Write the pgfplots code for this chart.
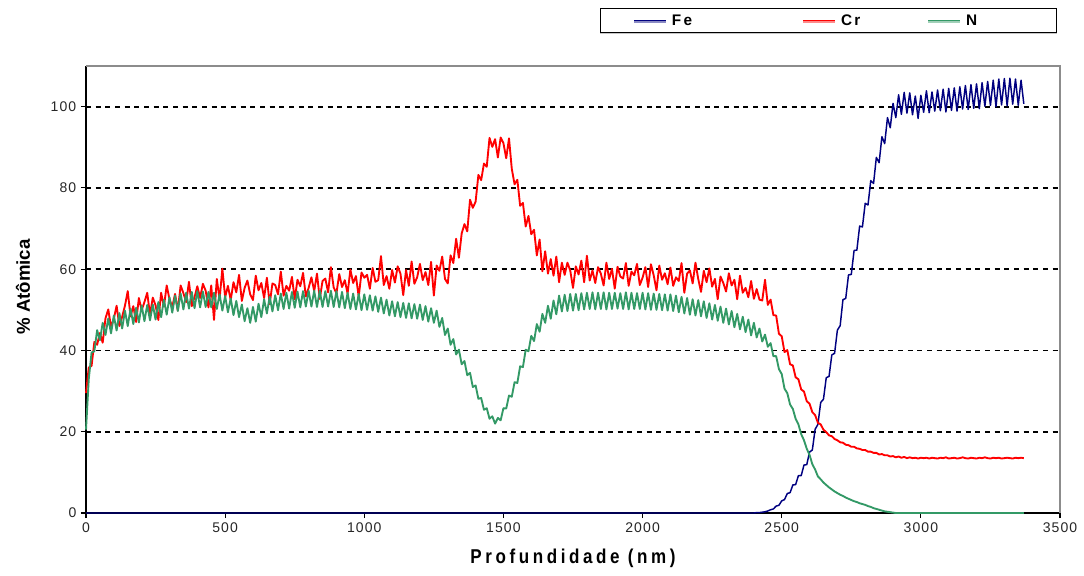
\documentclass[border=0pt]{standalone}
\usepackage{pgfplots}
\pgfplotsset{compat=1.18}
\usepackage{pgfplotstable}
\usetikzlibrary{shadows}
\usepackage{fontspec}
\setmainfont{Liberation Sans}
\newfontfamily\tickfont[LetterSpace=8]{Liberation Sans}
\newfontfamily\xlabfont[LetterSpace=18,FakeStretch=0.85]{Liberation Sans}
\newfontfamily\legfont[LetterSpace=15]{Liberation Sans}

\definecolor{feblue}{RGB}{0,0,128}
\definecolor{crred}{RGB}{255,0,0}
\definecolor{ngreen}{RGB}{51,153,102}

% depth profile: x = depth (nm), atomic % of Fe, Cr and N
\pgfplotstableread{
x Fe Cr N
0 0 29.5 20.5
10 0 35.8 33.0
20 0 36.2 39.5
30 0 42.1 39.8
40 0 41.4 45.0
50 0 44.3 42.5
60 0 41.9 46.8
70 0 47.9 43.8
80 0 50.1 47.9
90 0 45.8 44.2
100 0 47.8 48.6
110 0 51.0 44.9
120 0 46.0 49.2
130 0 48.3 45.4
140 0 51.0 49.8
150 0 54.6 46.0
160 0 48.4 50.3
170 0 50.9 46.5
180 0 47.0 50.5
190 0 52.9 46.9
200 0 49.9 51.1
210 0 51.9 47.2
220 0 54.2 51.2
230 0 48.8 47.4
240 0 53.0 51.3
250 0 51.1 47.6
260 0 47.5 51.9
270 0 54.2 48.2
280 0 50.8 52.5
290 0 56.0 48.8
300 0 52.6 53.1
310 0 50.7 49.3
320 0 53.9 53.5
330 0 49.8 49.7
340 0 56.0 54.0
350 0 54.1 50.1
360 0 51.9 54.2
370 0 56.9 50.3
380 0 50.9 54.4
390 0 53.1 50.4
400 0 55.8 54.6
410 0 52.9 50.6
420 0 56.4 54.5
430 0 54.7 50.7
440 0 50.6 54.4
450 0 56.0 50.6
460 0 47.5 54.2
470 0 57.6 50.2
480 0 52.6 53.8
490 0 60.1 49.8
500 0 53.1 53.4
510 0 55.9 49.4
520 0 52.4 52.8
530 0 56.8 48.7
540 0 54.3 52.2
550 0 58.6 48.2
560 0 52.2 51.3
570 0 55.4 47.2
580 0 57.2 50.4
590 0 53.8 46.8
600 0 52.4 50.7
610 0 58.4 47.1
620 0 54.8 51.5
630 0 56.6 48.2
640 0 52.9 52.6
650 0 57.9 49.1
660 0 51.4 53.2
670 0 56.5 49.6
680 0 56.1 53.6
690 0 53.8 49.9
700 0 59.4 54.0
710 0 53.5 50.2
720 0 55.9 54.2
730 0 54.7 50.3
740 0 58.1 54.4
750 0 52.6 50.5
760 0 57.4 54.5
770 0 55.8 50.6
780 0 59.1 54.6
790 0 53.3 50.8
800 0 55.4 54.7
810 0 58.0 50.8
820 0 54.6 54.7
830 0 58.9 50.7
840 0 52.7 54.7
850 0 57.1 50.7
860 0 57.7 54.6
870 0 54.3 50.8
880 0 60.5 54.7
890 0 55.5 50.7
900 0 54.1 54.6
910 0 58.8 50.6
920 0 55.6 54.4
930 0 57.3 50.4
940 0 54.0 54.2
950 0 59.9 50.2
960 0 56.6 54.0
970 0 58.3 50.1
980 0 53.2 53.9
990 0 59.2 49.9
1000 0 57.9 53.8
1010 0 58.6 50.0
1020 0 55.2 53.6
1030 0 60.3 49.8
1040 0 56.9 53.3
1050 0 57.3 49.5
1060 0 63.2 53.0
1070 0 56.1 49.1
1080 0 58.3 52.5
1090 0 55.2 48.6
1100 0 59.8 52.1
1110 0 56.7 48.4
1120 0 60.7 51.9
1130 0 58.9 48.2
1140 0 53.6 51.7
1150 0 59.8 48.0
1160 0 55.9 51.6
1170 0 61.9 47.9
1180 0 56.4 51.4
1190 0 58.0 47.8
1200 0 61.3 51.3
1210 0 57.3 47.5
1220 0 59.3 50.9
1230 0 56.1 47.1
1240 0 61.8 50.4
1250 0 53.5 46.8
1260 0 60.9 49.8
1270 0 59.6 45.8
1280 0 63.1 48.0
1290 0 57.6 43.8
1300 0 56.5 45.4
1310 0 63.4 41.4
1320 0 61.5 42.8
1330 0 67.5 39.0
1340 0 62.8 40.2
1350 0 68.8 36.6
1360 0 71.1 37.4
1370 0 69.3 33.9
1380 0 77.1 34.5
1390 0 75.1 31.0
1400 0 76.6 31.4
1410 0 83.2 28.1
1420 0 81.9 28.3
1430 0 86.0 25.4
1440 0 85.2 25.8
1450 0 92.3 23.2
1460 0 90.1 23.8
1470 0 92.0 22.0
1480 0 87.5 23.4
1490 0 92.4 22.8
1500 0 91.0 25.8
1510 0 87.3 25.7
1520 0 92.2 28.9
1530 0 84.7 28.6
1540 0 80.9 32.2
1550 0 82.0 32.0
1560 0 75.6 36.1
1570 0 76.3 35.9
1580 0 70.5 40.2
1590 0 73.1 39.8
1600 0 68.6 43.6
1610 0 69.7 42.3
1620 0 63.4 46.5
1630 0 67.3 44.6
1640 0 59.5 49.0
1650 0 64.4 46.8
1660 0 58.9 51.0
1670 0 62.5 47.8
1680 0 58.4 52.3
1690 0 63.1 48.9
1700 0 56.8 53.5
1710 0 61.6 49.6
1720 0 58.6 53.7
1730 0 61.6 49.7
1740 0 59.7 53.9
1750 0 55.4 49.8
1760 0 60.7 53.9
1770 0 58.7 49.9
1780 0 62.1 54.1
1790 0 56.8 50.1
1800 0 63.3 54.2
1810 0 57.2 50.2
1820 0 59.7 54.3
1830 0 56.6 50.1
1840 0 60.5 54.2
1850 0 58.9 50.2
1860 0 56.0 54.3
1870 0 61.6 50.1
1880 0 57.6 54.2
1890 0 60.1 50.2
1900 0 55.2 54.2
1910 0 60.6 50.3
1920 0 58.2 54.1
1930 0 57.7 50.2
1940 0 61.5 54.3
1950 0 55.9 50.1
1960 0 59.4 54.2
1970 0 58.5 50.2
1980 0 61.3 54.1
1990 0 56.1 50.2
2000 0 57.9 54.2
2010 0 60.5 50.1
2020 0 55.6 54.1
2030 0 61.2 50.0
2040 0 58.5 54.0
2050 0 54.8 50.0
2060 0 60.9 53.9
2070 0 57.4 49.9
2080 0 59.0 53.8
2090 0 56.3 49.8
2100 0 60.4 53.8
2110 0 55.9 49.7
2120 0 58.0 53.5
2130 0 57.1 49.4
2140 0 61.5 53.2
2150 0 54.2 49.1
2160 0 58.9 52.9
2170 0 59.7 48.8
2180 0 56.5 52.6
2190 0 61.6 48.6
2200 0 57.6 52.4
2210 0 54.4 48.4
2220 0 59.6 52.1
2230 0 56.8 48.0
2240 0 60.2 51.6
2250 0 55.7 47.6
2260 0 57.6 51.2
2270 0 52.6 47.3
2280 0 58.2 50.8
2290 0 56.6 46.8
2300 0 54.5 50.3
2310 0 59.0 46.4
2320 0 56.0 49.7
2330 0 57.4 45.7
2340 0 52.6 49.0
2350 0 58.4 45.2
2360 0 54.2 48.3
2370 0 55.4 44.5
2380 0 53.1 47.6
2390 0 57.1 43.7
2400 0.0 52.7 46.8
2410 0.1 55.1 43.2
2420 0.1 52.5 45.4
2430 0.2 52.3 42.2
2440 0.3 57.4 43.9
2450 0.5 51.2 40.9
2460 0.8 52.5 41.8
2470 1.0 48.7 38.6
2480 1.7 48.6 38.6
2490 1.9 44.1 35.4
2500 3.0 43.5 34.2
2510 3.3 39.6 30.6
2520 4.8 40.1 29.5
2530 5.0 36.6 26.7
2540 6.9 36.3 25.6
2550 7.0 33.4 23.2
2560 9.2 32.9 21.8
2570 9.2 30.4 19.4
2580 11.8 29.9 17.9
2590 11.9 27.5 15.8
2600 15.0 26.9 14.3
2610 15.5 24.8 12.0
2620 20.6 24.1 10.7
2630 21.8 22.2 9.0
2640 27.2 21.8 8.3
2650 28.0 20.5 7.5
2660 33.3 19.9 6.9
2670 33.6 19.1 6.3
2680 38.9 18.9 5.8
2690 39.3 18.2 5.3
2700 45.0 17.9 4.9
2710 46.1 17.4 4.5
2720 52.5 17.3 4.2
2730 52.8 16.8 3.8
2740 58.6 16.7 3.5
2750 58.7 16.3 3.2
2760 64.6 16.3 2.9
2770 64.7 15.9 2.7
2780 70.6 15.8 2.4
2790 70.4 15.5 2.2
2800 76.2 15.5 2.0
2810 75.8 15.1 1.7
2820 81.8 15.1 1.5
2830 81.1 14.8 1.2
2840 87.5 14.8 1.0
2850 86.2 14.4 0.8
2860 92.6 14.5 0.6
2870 90.9 14.2 0.4
2880 97.3 14.2 0.3
2890 94.8 13.9 0.2
2900 100.8 14.0 0.1
2910 97.3 13.7 0
2920 102.9 13.9 0
2930 98.1 13.6 0
2940 103.5 13.8 0
2950 98.4 13.5 0
2960 103.4 13.7 0
2970 98.0 13.5 0
2980 102.6 13.6 0
2990 97.1 13.4 0
3000 102.8 13.6 0
3010 98.6 13.5 0
3020 103.9 13.6 0
3030 98.5 13.4 0
3040 103.6 13.6 0
3050 98.9 13.5 0
3060 104.1 13.4 0
3070 99.0 13.6 0
3080 104.3 13.5 0
3090 98.7 13.7 0
3100 104.5 13.4 0
3110 99.1 13.5 0
3120 104.6 13.6 0
3130 98.9 13.4 0
3140 104.9 13.5 0
3150 99.4 13.7 0
3160 105.2 13.5 0
3170 99.3 13.4 0
3180 105.4 13.6 0
3190 99.6 13.5 0
3200 105.6 13.4 0
3210 99.5 13.6 0
3220 105.9 13.5 0
3230 100.1 13.7 0
3240 106.2 13.5 0
3250 100.3 13.4 0
3260 106.5 13.6 0
3270 100.0 13.5 0
3280 106.8 13.6 0
3290 100.4 13.4 0
3300 106.9 13.5 0
3310 100.2 13.6 0
3320 107.0 13.5 0
3330 100.6 13.4 0
3340 106.8 13.6 0
3350 100.3 13.5 0
3360 106.5 13.6 0
3370 100.7 13.5 0
}\profile

\begin{document}
\begin{tikzpicture}
\path (0,0) rectangle (813pt,431.25pt);
\begin{axis}[
  at={(64.5pt,46.5pt)}, anchor=south west,
  scale only axis, width=730.5pt, height=335.25pt,
  xmin=0, xmax=3500, ymin=0, ymax=110,
  axis x line*=bottom, axis y line*=left,
  axis line style={black, line width=0.8pt},
  xtick={0,500,...,3500}, ytick={0,20,...,100},
  tick align=outside, major tick length=3.75pt,
  tick style={black, line width=0.8pt},
  ymajorgrids,
  grid style={black, line width=1.3pt, dash pattern=on 3.75pt off 3.5pt},
  /pgf/number format/assume math mode=true,
  /pgf/number format/1000 sep={},
  tick label style={font=\tickfont\fontsize{10.5}{12}\selectfont, text=black!85},
  xlabel={Profundidade (nm)},
  ylabel={\% Atômica},
  xlabel style={font=\xlabfont\bfseries\fontsize{15}{18}\selectfont,
    at={(axis description cs:0.5,-0.1007)}, anchor=center},
  ylabel style={font=\bfseries\fontsize{14}{17}\selectfont,
    at={(axis description cs:-0.0647,0.5056)}, anchor=center},
  clip=false,
  legend columns=3,
  legend cell align=left,
  legend image code/.code={\draw[#1] (0pt,0pt) -- (24pt,0pt);},
  legend image post style={line width=1.1pt},
  legend style={
    at={(axis description cs:0.5277,1.1298)}, anchor=north west,
    draw=black, line width=0.75pt, fill=white,
    drop shadow={shadow xshift=0pt, shadow yshift=-1.1pt, opacity=0.45},
    inner xsep=24.75pt, inner ysep=4.5pt,
    font=\legfont\bfseries\fontsize{11.5}{13}\selectfont,
    nodes={inner sep=0pt, text height=8.5pt, text depth=0.5pt},
    /tikz/every odd column/.append style={column sep=3.75pt},
    /tikz/every even column/.append style={column sep=0pt},
  },
]
\addplot[feblue, line width=1.1pt, line join=round] table[x=x, y=Fe] {\profile};
\addlegendentry{\makebox[98pt][l]{Fe}}
\addplot[crred, line width=1.4pt, line join=round] table[x=x, y=Cr] {\profile};
\addlegendentry{\makebox[65pt][l]{Cr}}
\addplot[ngreen, line width=1.4pt, line join=round] table[x=x, y=N] {\profile};
\addlegendentry{\makebox[43pt][l]{N}}
\draw[black!45, line width=1.1pt] (rel axis cs:0,1) -- (rel axis cs:1,1) -- (rel axis cs:1,0);
\end{axis}
\end{tikzpicture}
\end{document}
